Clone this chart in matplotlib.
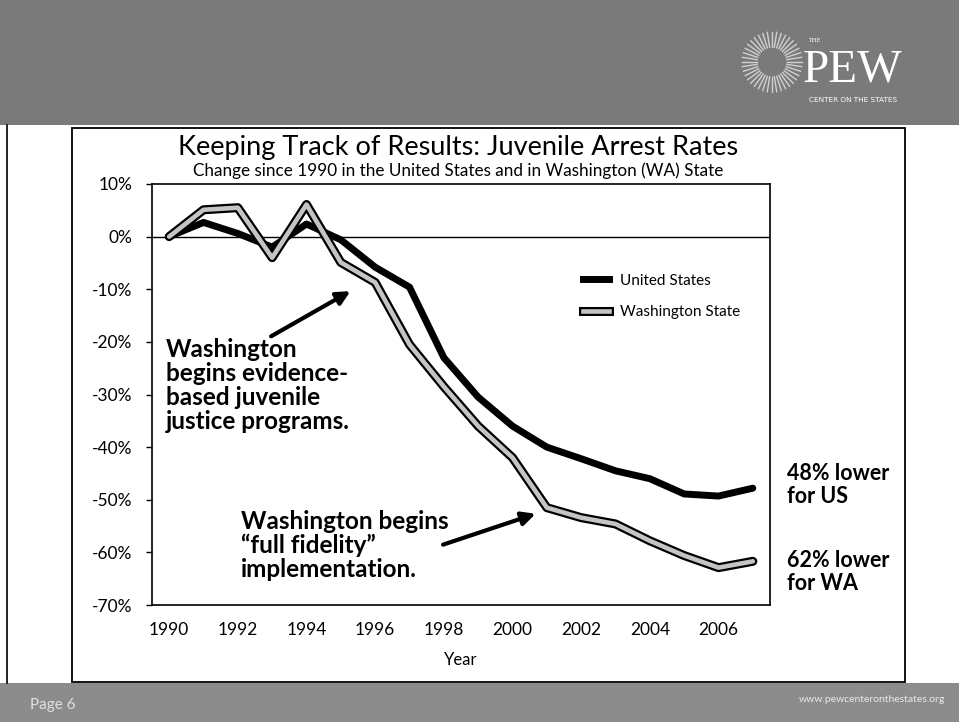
import matplotlib
matplotlib.use("Agg")
import matplotlib.pyplot as plt
import numpy as np
from matplotlib.patches import Rectangle
from matplotlib.lines import Line2D
from matplotlib.legend_handler import HandlerTuple

plt.rcParams['font.family'] = ['Lato', 'DejaVu Sans']

# data (% change since 1990)
years = list(range(1990, 2008))
us = [0.0, 2.7, 0.6, -2.0, 2.4, -0.6, -5.8, -9.6, -23.0, -30.5, -36.0,
      -40.0, -42.2, -44.5, -46.0, -48.9, -49.3, -47.8]
wa = [0.0, 5.1, 5.5, -4.0, 6.1, -4.9, -8.7, -20.5, -28.5, -36.0, -42.0,
      -51.5, -53.4, -54.6, -57.8, -60.6, -62.9, -61.7]
yticks = [10, 0, -10, -20, -30, -40, -50, -60, -70]
xticks = list(range(1990, 2007, 2))

W, H = 959, 722
fig = plt.figure(figsize=(W / 100, H / 100), dpi=100)

# page background / decorations in pixel coords
bg = fig.add_axes([0, 0, 1, 1])
bg.set_xlim(0, W)
bg.set_ylim(H, 0)
bg.axis('off')
bg.add_patch(Rectangle((0, 0), W, 125, color='#7a7a7a', lw=0))
bg.add_patch(Rectangle((0, 683), W, 39, color='#8c8c8c', lw=0))
bg.plot([7, 7], [125, 683], color='black', lw=1.2)
bg.add_patch(Rectangle((72, 128), 833, 554, facecolor='white', edgecolor='black', lw=1.3))

# sunburst logo
for a in np.linspace(0, 2 * np.pi, 40, endpoint=False):
    bg.plot([772 + 15 * np.cos(a), 772 + 30 * np.cos(a)],
            [62 + 15 * np.sin(a), 62 + 30 * np.sin(a)], color='#d0d0d0', lw=1)
bg.text(808, 42, 'THE', color='white', fontsize=4, family='DejaVu Serif')
bg.text(853, 70, 'PEW', color='white', fontsize=34, family='Liberation Serif',
        ha='center', va='center')
bg.text(853, 100, 'CENTER ON THE STATES', color='white', fontsize=5.2,
        ha='center', va='center', family='DejaVu Sans')
bg.text(30, 705, 'Page 6', color='#e0e0e0', fontsize=11, va='center')
bg.text(945, 700, 'www.pewcenteronthestates.org', color='#e8e8e8', fontsize=7.5,
        ha='right', va='center')

bg.text(458, 148, 'Keeping Track of Results: Juvenile Arrest Rates',
        fontsize=19.5, ha='center', va='center')
bg.text(458, 171, 'Change since 1990 in the United States and in Washington (WA) State',
        fontsize=12.3, ha='center', va='center')
bg.text(787, 485, '48% lower\nfor US', fontsize=15.5, fontweight='bold',
        va='center', linespacing=1.1)
bg.text(787, 572, '62% lower\nfor WA', fontsize=15.5, fontweight='bold',
        va='center', linespacing=1.1)

# chart
ax = fig.add_axes([152 / W, 1 - 605 / H, 618 / W, 421 / H])
ax.set_xlim(1989.5, 2007.5)
ax.set_ylim(-70, 10)
ax.axhline(0, color='black', lw=1)

ax.plot(years, us, color='black', lw=5, solid_joinstyle='round',
        solid_capstyle='round')
ax.plot(years, wa, color='black', lw=6.5, solid_joinstyle='round',
        solid_capstyle='round')
ax.plot(years, wa, color='#c4c4c4', lw=3.3, solid_joinstyle='round',
        solid_capstyle='round')

# legend proxies
h_us = Line2D([], [], color='black', lw=5)
h_wa = (Line2D([], [], color='black', lw=6.5), Line2D([], [], color='#c4c4c4', lw=3.3))
ax.legend([h_us, h_wa], ['United States', 'Washington State'],
          handler_map={tuple: HandlerTuple(ndivide=1, pad=0)},
          loc='upper left', bbox_to_anchor=(0.675, 0.82), frameon=False,
          fontsize=11, handlelength=1.7, labelspacing=1.15, handletextpad=0.7)

ax.set_yticks(yticks)
ax.set_yticklabels([f'{v}%' for v in yticks])
ax.set_xticks(xticks)
ax.tick_params(axis='y', labelsize=12.5, length=4, width=1, pad=10)
ax.tick_params(axis='x', labelsize=12.5, length=0, pad=12)
for s in ax.spines.values():
    s.set_linewidth(1.2)
ax.set_xlabel('Year', fontsize=12, labelpad=10)

ax.text(1989.9, -28.3, 'Washington\nbegins evidence-\nbased juvenile\njustice programs.',
        fontsize=17.5, fontweight='bold', va='center', linespacing=1.05)
ax.annotate('', xy=(1995.35, -10.1), xytext=(1992.9, -19.2),
            arrowprops=dict(arrowstyle='-|>', color='black', lw=3, mutation_scale=20))
ax.text(1992.1, -58.7, 'Washington begins\n\u201cfull fidelity\u201d\nimplementation.',
        fontsize=17.5, fontweight='bold', va='center', linespacing=1.05)
ax.annotate('', xy=(2000.75, -52.5), xytext=(1997.9, -58.7),
            arrowprops=dict(arrowstyle='-|>', color='black', lw=3, mutation_scale=20))

fig.savefig('out.png', dpi=100)
